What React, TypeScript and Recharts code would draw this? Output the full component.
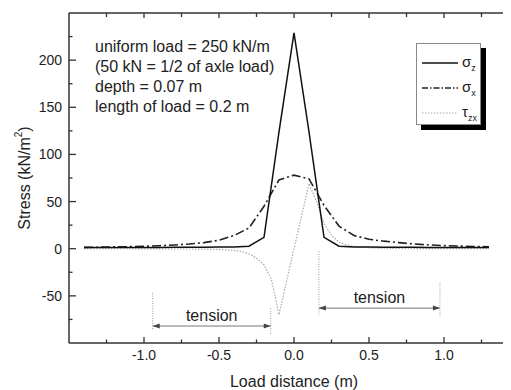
import React from 'react';
import { LineChart, Line, XAxis, YAxis, ReferenceLine, Label } from 'recharts';

// ---------- data ----------
const zX = [-1.4, -1.3, -1.2, -1.1, -1.0, -0.9, -0.8, -0.7, -0.6, -0.5, -0.4, -0.3, -0.2, -0.1, 0, 0.1, 0.2, 0.3, 0.4, 0.5, 0.6, 0.7, 0.8, 0.9, 1.0, 1.1, 1.2, 1.3];
const sigmaZ = [1.2, 1.2, 1.3, 1.3, 1.4, 1.4, 1.5, 1.5, 1.6, 1.7, 1.9, 2.6, 12, 124, 229, 124, 12, 2.6, 1.9, 1.7, 1.6, 1.5, 1.5, 1.4, 1.4, 1.3, 1.3, 1.2];
const sigmaX = [1.4, 1.6, 1.9, 2.2, 2.6, 3.2, 4.0, 5.0, 6.5, 9.0, 14, 22, 45, 73, 78, 74, 46, 24, 14, 10, 8, 6.5, 5, 4, 3.3, 2.8, 2.4, 2.1];
const tauXs = [-1.4, -1.2, -1.0, -0.8, -0.6, -0.5, -0.4, -0.35, -0.3, -0.25, -0.2, -0.15, -0.1, 0, 0.1, 0.15, 0.2, 0.25, 0.3, 0.35, 0.4, 0.5, 0.6, 0.8, 1.0, 1.3];
const tauZX = [0, 0, -0.1, -0.2, -0.4, -0.8, -1.8, -3, -5.5, -10, -17, -33, -70, 0, 69, 50, 27, 14, 7, 4, 2.5, 1, 0.5, 0.2, 0.1, 0];

const xTicks = [-1.25, -1.0, -0.75, -0.5, -0.25, 0, 0.25, 0.5, 0.75, 1.0, 1.25];
const xMajor = [-1.0, -0.5, 0, 0.5, 1.0];
const xTickLabels = ['-1.0', '-0.5', '0.0', '0.5', '1.0'];
const yTicks = [-75, -50, -25, 0, 25, 50, 75, 100, 125, 150, 175, 200, 225];
const yMajor = [-50, 0, 50, 100, 150, 200];
const yTickLabels = ['-50', '0', '50', '100', '150', '200'];

const infoLines = ['uniform load = 250 kN/m', '(50 kN = 1/2 of axle load)', 'depth = 0.07 m', 'length of load = 0.2 m'];

const leftArrow = [{ x: -0.942, y: -82 }, { x: -0.155, y: -82 }];
const leftMarks = [
  [{ x: -0.942, y: -47 }, { x: -0.942, y: -86 }],
  [{ x: -0.155, y: -63 }, { x: -0.155, y: -91 }],
];
const rightArrow = [{ x: 0.166, y: -63 }, { x: 0.973, y: -63 }];
const rightMarks = [
  [{ x: 0.166, y: -3 }, { x: 0.166, y: -70 }],
  [{ x: 0.973, y: -36 }, { x: 0.973, y: -73 }],
];

const zData = zX.map((x, i) => ({ x, v: sigmaZ[i] }));
const xData = zX.map((x, i) => ({ x, v: sigmaX[i] }));
const tData = tauXs.map((x, i) => ({ x, v: tauZX[i] }));

const AX = '#333';
const TXT = '#222';

const BottomTick = (p: any) => {
  const v = p.payload.value;
  const idx = xMajor.indexOf(v);
  const major = idx >= 0;
  return (
    <g>
      <line x1={p.x} x2={p.x} y1={p.y} y2={p.y - (major ? 6 : 3.5)} stroke={AX} strokeWidth={1.3} />
      {major && (
        <text x={p.x} y={p.y + 17} textAnchor="middle" fontSize={14} fill={TXT}>
          {xTickLabels[idx]}
        </text>
      )}
    </g>
  );
};

const TopTick = (p: any) => {
  const v = p.payload.value;
  const major = xMajor.indexOf(v) >= 0;
  return <line x1={p.x} x2={p.x} y1={p.y} y2={p.y + (major ? 5 : 4)} stroke={AX} strokeWidth={1.3} />;
};

const LeftTick = (p: any) => {
  const v = p.payload.value;
  const idx = yMajor.indexOf(v);
  const major = idx >= 0;
  return (
    <g>
      <line x1={p.x} x2={p.x + (major ? 7 : 3.5)} y1={p.y} y2={p.y} stroke={AX} strokeWidth={1.3} />
      {major && (
        <text x={p.x - 7} y={p.y + 5} textAnchor="end" fontSize={14} fill={TXT}>
          {yTickLabels[idx]}
        </text>
      )}
    </g>
  );
};

const ArrowShape = (p: any) => {
  const { x1, y1, x2, y2 } = p;
  const L = 7;
  const W = 2.5;
  return (
    <g>
      <line x1={x1} y1={y1} x2={x2} y2={y2} stroke="#777" strokeWidth={1} />
      <polygon points={`${x1},${y1} ${x1 + L},${y1 - W} ${x1 + L},${y1 + W}`} fill="#444" />
      <polygon points={`${x2},${y2} ${x2 - L},${y2 - W} ${x2 - L},${y2 + W}`} fill="#444" />
    </g>
  );
};

const YLabel = (props: any) => {
  const vb = props.viewBox || { x: 0, y: 5, width: 61, height: 330 };
  const cx = 16;
  const cy = vb.y + vb.height / 2;
  return (
    <text
      x={cx}
      y={cy}
      transform={`rotate(-90 ${cx} ${cy})`}
      textAnchor="middle"
      dominantBaseline="central"
      fontSize={16}
      fill={TXT}
    >
      Stress (kN/m<tspan dy={-6} fontSize={10}>2</tspan>
      <tspan dy={6}>)</tspan>
    </text>
  );
};

const XLabel = (props: any) => {
  const vb = props.viewBox || { x: 61, y: 335, width: 450, height: 47 };
  return (
    <text x={vb.x + vb.width / 2} y={vb.y + 43.5} textAnchor="middle" fontSize={16} fill={TXT}>
      Load distance (m)
    </text>
  );
};

const LegendRow = ({ top, dash, color, width, label, sub }: any) => (
  <div style={{ position: 'absolute', left: 0, top, height: 20, width: 65 }}>
    <svg width={36} height={20} style={{ position: 'absolute', left: 5, top: 0 }}>
      <line x1={0} x2={36} y1={10} y2={10} stroke={color} strokeWidth={width} strokeDasharray={dash} />
    </svg>
    <span style={{ position: 'absolute', left: 45, top: 0, fontSize: 15, lineHeight: '18px', color: TXT }}>
      {label}
      <span style={{ fontSize: 9, position: 'relative', top: 4 }}>{sub}</span>
    </span>
  </div>
);

export default function App() {
  return (
    <div
      style={{
        position: 'relative',
        width: 503,
        height: 382,
        overflow: 'hidden',
        fontFamily: '"Liberation Sans", Arial, sans-serif',
        background: '#fff',
      }}
    >
      <LineChart width={530} height={382} margin={{ top: 0, right: 19, bottom: 0, left: 0 }}>
        <XAxis
          dataKey="x"
          type="number"
          domain={[-1.5, 1.5]}
          ticks={xTicks}
          interval={0}
          tickSize={0}
          tickMargin={0}
          tickLine={false}
          tick={BottomTick}
          axisLine={{ stroke: AX, strokeWidth: 1.5 }}
          height={47}
          allowDataOverflow
        >
          <Label content={XLabel} />
        </XAxis>
        <XAxis
          xAxisId="top"
          orientation="top"
          dataKey="x"
          type="number"
          domain={[-1.5, 1.5]}
          ticks={xTicks}
          interval={0}
          tickSize={0}
          tickMargin={0}
          tickLine={false}
          tick={TopTick}
          axisLine={{ stroke: AX, strokeWidth: 1.5 }}
          height={5}
          allowDataOverflow
        />
        <YAxis
          type="number"
          domain={[-100, 250]}
          ticks={yTicks}
          interval={0}
          tickSize={0}
          tickMargin={0}
          tickLine={false}
          tick={LeftTick}
          axisLine={{ stroke: AX, strokeWidth: 1.5 }}
          width={61}
          allowDataOverflow
        >
          <Label content={YLabel} />
        </YAxis>

        {leftMarks.map((seg, i) => (
          <ReferenceLine key={'lm' + i} segment={seg} stroke="#999" strokeWidth={1} strokeDasharray="1 1.5" />
        ))}
        {rightMarks.map((seg, i) => (
          <ReferenceLine key={'rm' + i} segment={seg} stroke="#999" strokeWidth={1} strokeDasharray="1 1.5" />
        ))}
        <ReferenceLine
          segment={leftArrow}
          shape={ArrowShape}
          label={{ value: 'tension', position: 'top', offset: 5, fontSize: 16, fill: TXT }}
        />
        <ReferenceLine
          segment={rightArrow}
          shape={ArrowShape}
          label={{ value: 'tension', position: 'top', offset: 5, fontSize: 16, fill: TXT }}
        />

        <Line data={tData} dataKey="v" type="linear" stroke="#aaa" strokeWidth={1.2} strokeDasharray="1.5 1.5" dot={false} isAnimationActive={false} />
        <Line data={xData} dataKey="v" type="linear" stroke="#222" strokeWidth={1.6} strokeDasharray="9 3 2 3" dot={false} isAnimationActive={false} />
        <Line data={zData} dataKey="v" type="linear" stroke="#111" strokeWidth={1.5} dot={false} isAnimationActive={false} />
      </LineChart>

      <div
        style={{
          position: 'absolute',
          left: 87,
          top: 29,
          fontSize: 16,
          lineHeight: '20px',
          color: TXT,
          whiteSpace: 'nowrap',
        }}
      >
        {infoLines.map((t, i) => (
          <div key={i}>{t}</div>
        ))}
      </div>

      <div
        style={{
          position: 'absolute',
          left: 408,
          top: 35,
          width: 65,
          height: 82,
          boxSizing: 'border-box',
          border: '1px solid #888',
          background: '#fff',
          boxShadow: '5px 5px 0 #000',
        }}
      >
        <LegendRow top={9} color="#111" width={1.5} label="σ" sub="z" />
        <LegendRow top={34} color="#222" width={1.6} dash="6 2 1.5 2" label="σ" sub="x" />
        <LegendRow top={59} color="#aaa" width={1.2} dash="1.5 1.5" label="τ" sub="zx" />
      </div>
    </div>
  );
}
